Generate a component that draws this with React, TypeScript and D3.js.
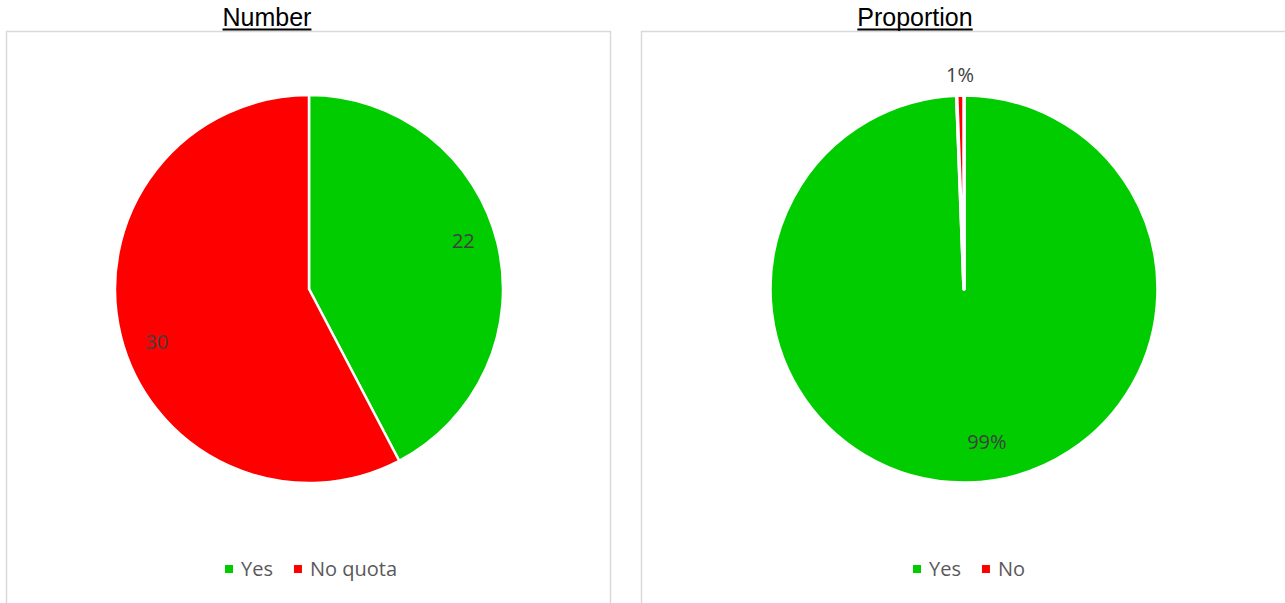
import React, { useEffect, useRef } from 'react'
import * as d3 from 'd3'

// left chart: counts
const numberCategories = ['Yes', 'No quota']
const numberValues = [22, 30]
const numberLabels = ['22', '30']

// right chart: share of items
const proportionCategories = ['Yes', 'No']
const proportionValues = [99.4, 0.6]
const proportionLabels = ['99%', '1%']

const sliceColors = ['#00cc00', '#ff0000']

const W = 1285
const H = 603

function drawPie(svg, opts) {
  const { title, titleX, box, cx, cy, r, categories, values, labels, stroke, labelRadius, legendX } = opts

  // chart frame
  svg.append('rect')
    .attr('x', box.x + 0.5)
    .attr('y', box.y + 0.5)
    .attr('width', box.w)
    .attr('height', box.h)
    .attr('fill', '#fff')
    .attr('stroke', '#d9d9d9')
    .attr('stroke-width', 1.5)

  // title, underlined
  const t = svg.append('text')
    .attr('x', titleX)
    .attr('y', 26)
    .attr('text-anchor', 'middle')
    .style('font-family', '"Liberation Sans", Arial, sans-serif')
    .style('font-size', '25px')
    .attr('fill', '#000')
    .text(title)
  const bb = t.node().getBBox()
  svg.append('line')
    .attr('x1', bb.x)
    .attr('x2', bb.x + bb.width)
    .attr('y1', 29.5)
    .attr('y2', 29.5)
    .attr('stroke', '#000')
    .attr('stroke-width', 2)

  const pie = d3.pie().sort(null).value(d => d)
  const arcs = pie(values)
  const arc = d3.arc().innerRadius(0).outerRadius(r)

  const g = svg.append('g').attr('transform', `translate(${cx}, ${cy})`)
  g.selectAll('path.slice')
    .data(arcs)
    .enter()
    .append('path')
    .attr('class', 'slice')
    .attr('d', arc)
    .attr('fill', (d, i) => sliceColors[i])
    .attr('stroke', '#fff')
    .attr('stroke-width', stroke)
    .attr('stroke-linejoin', 'round')

  // data labels (best-fit nudges like the spreadsheet does)
  g.selectAll('text.lbl')
    .data(arcs)
    .enter()
    .append('text')
    .attr('class', 'lbl')
    .attr('transform', (d, i) => {
      const lr = labelRadius[i] * r
      const a = (d.startAngle + d.endAngle) / 2
      return `translate(${Math.sin(a) * lr + opts.labelDx[i]}, ${-Math.cos(a) * lr + opts.labelDy[i]})`
    })
    .attr('text-anchor', 'middle')
    .attr('dy', '0.35em')
    .style('font-family', '"Open Sans", sans-serif')
    .style('font-size', '20px')
    .attr('fill', '#404040')
    .text((d, i) => labels[i])

  // legend
  const leg = svg.append('g').attr('transform', `translate(${legendX}, 569)`)
  let x = 0
  categories.forEach((c, i) => {
    leg.append('rect')
      .attr('x', x)
      .attr('y', -4)
      .attr('width', 8)
      .attr('height', 8)
      .attr('fill', sliceColors[i])
    const lt = leg.append('text')
      .attr('x', x + 16)
      .attr('y', 0)
      .attr('dy', '0.35em')
      .style('font-family', '"Open Sans", sans-serif')
      .style('font-size', '20px')
      .attr('fill', '#595959')
      .text(c)
    x += 16 + lt.node().getComputedTextLength() + 21
  })
}

export default function App() {
  const ref = useRef(null)

  useEffect(() => {
    const svg = d3.select(ref.current)
    svg.selectAll('*').remove()

    drawPie(svg, {
      title: 'Number',
      titleX: 267,
      box: { x: 6, y: 31, w: 604, h: 600 },
      cx: 309,
      cy: 289,
      r: 194,
      categories: numberCategories,
      values: numberValues,
      labels: numberLabels,
      stroke: 2.5,
      labelRadius: [0.83, 0.83],
      labelDx: [-2, 4],
      labelDy: [-9, 14],
      legendX: 225,
    })

    drawPie(svg, {
      title: 'Proportion',
      titleX: 915,
      box: { x: 641, y: 31, w: 700, h: 600 },
      cx: 964,
      cy: 289,
      r: 194,
      categories: proportionCategories,
      values: proportionValues,
      labels: proportionLabels,
      stroke: 3.5,
      labelRadius: [0.79, 1.11],
      labelDx: [20, 0],
      labelDy: [0, 1],
      legendX: 913,
    })
  }, [])

  return (
    <svg
      ref={ref}
      width={W}
      height={H}
      style={{ position: 'absolute', left: 0, top: 0, background: '#fff' }}
    />
  )
}
